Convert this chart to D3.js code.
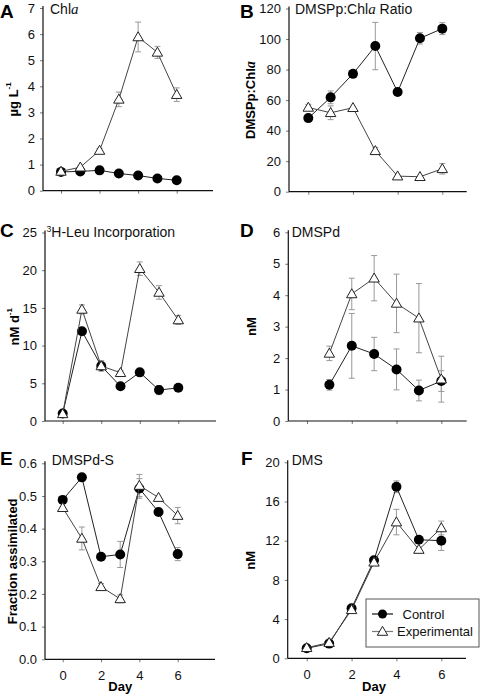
<!DOCTYPE html>
<html><head><meta charset="utf-8">
<script src="https://cdn.jsdelivr.net/npm/d3@7"></script>
<style>body{margin:0;background:#fff}svg{display:block;font-family:Arial,"Liberation Sans",sans-serif}</style>
</head><body><svg id="c" width="482" height="694"></svg>
<script>
// ---------- data ----------
const days = [0, 1, 2, 3, 4, 5, 6];
const daysD = [1, 2, 3, 4, 5, 6];
const xTicks = [0, 2, 4, 6];
const seriesNames = ["Control", "Experimental"];

const chlaControl = [0.72, 0.74, 0.78, 0.66, 0.58, 0.47, 0.40];
const chlaControlErr = [0, 0, 0, 0, 0, 0, 0];
const chlaExp = [0.74, 0.90, 1.54, 3.50, 5.89, 5.30, 3.68];
const chlaExpErr = [0.05, 0.05, 0.08, 0.28, 0.57, 0.23, 0.26];
const chlaTicks = [0, 1, 2, 3, 4, 5, 6, 7];

const ratioControl = [48.2, 61.8, 77.2, 95.4, 65.3, 100.5, 106.8];
const ratioControlErr = [0, 4.2, 0, 15.5, 0, 3.8, 3.9];
const ratioExp = [55.2, 51.7, 55.0, 26.8, 10.2, 9.8, 15.0];
const ratioExpErr = [2, 4.5, 0, 2, 0, 0, 3.4];
const ratioTicks = [0, 20, 40, 60, 80, 100, 120];

const leuControl = [1.0, 11.9, 7.3, 4.6, 6.45, 4.1, 4.4];
const leuControlErr = [0, 0.3, 0.3, 0.3, 0.3, 0.6, 0.3];
const leuExp = [0.95, 14.8, 7.3, 6.4, 20.2, 17.05, 13.4];
const leuExpErr = [0.2, 0.6, 0.7, 0.3, 0.9, 0.9, 0.6];
const leuTicks = [0, 5, 10, 15, 20, 25];

const dmspdControl = [1.15, 2.39, 2.13, 1.64, 0.97, 1.27];
const dmspdControlErr = [0.17, 1.03, 0.53, 0.65, 0.33, 0.33];
const dmspdExp = [2.15, 4.04, 4.54, 3.74, 3.27, 1.33];
const dmspdExpErr = [0.23, 0.5, 0.72, 0.93, 1.1, 0.73];
const dmspdTicks = [0, 1, 2, 3, 4, 5, 6];

const dmspdsControl = [0.488, 0.557, 0.314, 0.321, 0.523, 0.451, 0.322];
const dmspdsControlErr = [0, 0, 0, 0.04, 0.03, 0, 0.02];
const dmspdsExp = [0.464, 0.370, 0.222, 0.185, 0.532, 0.495, 0.440];
const dmspdsExpErr = [0, 0.035, 0.01, 0.012, 0.034, 0, 0.025];
const dmspdsTicks = [0, 0.1, 0.2, 0.3, 0.4, 0.5, 0.6];

const dmsControl = [1.02, 1.5, 5.1, 10.0, 17.5, 12.1, 12.0];
const dmsControlErr = [0, 0, 0, 0, 0.6, 0, 1.0];
const dmsExp = [1.08, 1.6, 4.95, 9.8, 13.9, 11.1, 13.3];
const dmsExpErr = [0, 0, 0, 0, 1.3, 0, 0.7];
const dmsTicks = [0, 4, 8, 12, 16, 20];

// ---------- layout ----------
const panels = [
  {letter:"A", lx:0, ly:18, title:[["Chl",""],["a","i"]], tx:50, ty:14,
   ylab:[["µg L",""],["-1","sup"]], ylx:13,
   d0:61, d6:176.7, aL:43, aR:213, top:8, bot:190.7, yMax:7, ticks:chlaTicks, fmt:d3.format("d"),
   x:days, c:chlaControl, ce:chlaControlErr, e:chlaExp, ee:chlaExpErr, xlabels:false},
  {letter:"B", lx:240, ly:18, title:[["DMSPp:Chl",""],["a","i"],[" Ratio",""]], tx:295, ty:14,
   ylab:[["DMSPp:Chl",""],["a","i"]], ylx:250,
   d0:308.3, d6:442.3, aL:289, aR:466.7, top:8.5, bot:191.7, yMax:120, ticks:ratioTicks, fmt:d3.format("d"),
   x:days, c:ratioControl, ce:ratioControlErr, e:ratioExp, ee:ratioExpErr, xlabels:false},
  {letter:"C", lx:0, ly:237, title:[["3","sup"],["H-Leu Incorporation",""]], tx:46.5, ty:236.5,
   ylab:[["nM d",""],["-1","sup"]], ylx:14,
   d0:62.7, d6:178.3, aL:45, aR:216, top:232.5, bot:421, yMax:25, ticks:leuTicks, fmt:d3.format("d"),
   x:days, c:leuControl, ce:leuControlErr, e:leuExp, ee:leuExpErr, xlabels:false},
  {letter:"D", lx:240, ly:237, title:[["DMSPd",""]], tx:291.7, ty:236.5,
   ylab:[["nM",""]], ylx:251,
   d0:307, d6:441.3, aL:288.3, aR:466.7, top:232.3, bot:421, yMax:6, ticks:dmspdTicks, fmt:d3.format("d"),
   x:daysD, c:dmspdControl, ce:dmspdControlErr, e:dmspdExp, ee:dmspdExpErr, xlabels:false},
  {letter:"E", lx:0, ly:465, title:[["DMSPd-S",""]], tx:51.7, ty:465,
   ylab:[["Fraction assimilated",""]], ylx:12,
   d0:62.7, d6:177.7, aL:45, aR:215, top:463.3, bot:659.3, yMax:0.6, ticks:dmspdsTicks, fmt:d3.format(".1f"),
   x:days, c:dmspdsControl, ce:dmspdsControlErr, e:dmspdsExp, ee:dmspdsExpErr, xlabels:true},
  {letter:"F", lx:241, ly:465, title:[["DMS",""]], tx:291.7, ty:465,
   ylab:[["nM",""]], ylx:250,
   d0:306.7, d6:441.3, aL:287.7, aR:466, top:462.3, bot:658.3, yMax:20, ticks:dmsTicks, fmt:d3.format("d"),
   x:days, c:dmsControl, ce:dmsControlErr, e:dmsExp, ee:dmsExpErr, xlabels:true}
];

const svg = d3.select("#c");
const triPath = "M0,-5.2L5.2,3.8L-5.2,3.8Z";

function addRich(sel, parts, size) {
  parts.forEach(([t, k]) => {
    const ts = sel.append("tspan").text(t);
    if (k === "i") ts.attr("font-style", "italic").attr("font-family", "'Liberation Serif','DejaVu Serif',serif").attr("font-size", size + 1);
    if (k === "sup") ts.attr("font-size", size * 0.62).attr("baseline-shift", "super");
  });
}

panels.forEach(p => {
  const g = svg.append("g");
  const x = d3.scaleLinear().domain([0, 6]).range([p.d0, p.d6]);
  const y = d3.scaleLinear().domain([0, p.yMax]).range([p.bot, p.top]);

  // axes
  const ya = d3.axisLeft(y).tickValues(p.ticks).tickFormat(p.fmt).tickSize(3).tickPadding(5);
  const yg = g.append("g").attr("transform", `translate(${p.aL},0)`).call(ya);
  yg.select(".domain").remove();
  yg.selectAll(".tick line").attr("stroke", "#777");
  yg.selectAll(".tick text").attr("font-size", 13).attr("fill", "#111").attr("font-family", "Arial,'Liberation Sans',sans-serif");
  g.append("line").attr("x1", p.aL).attr("x2", p.aL).attr("y1", p.top - 2).attr("y2", p.bot).attr("stroke", "#111").attr("stroke-width", 1.2);

  const xa = d3.axisBottom(x).tickValues(xTicks).tickFormat(p.xlabels ? d3.format("d") : "").tickSize(3).tickPadding(8);
  const xg = g.append("g").attr("transform", `translate(0,${p.bot})`).call(xa);
  xg.select(".domain").remove();
  xg.selectAll(".tick line").attr("stroke", "#777");
  xg.selectAll(".tick text").attr("font-size", 13).attr("fill", "#111").attr("font-family", "Arial,'Liberation Sans',sans-serif");
  g.append("line").attr("x1", p.aL).attr("x2", p.aR).attr("y1", p.bot).attr("y2", p.bot).attr("stroke", "#111").attr("stroke-width", 1.2);

  if (p.xlabels) {
    g.append("text").attr("x", (p.d0 + p.d6) / 2).attr("y", 691).attr("text-anchor", "middle")
      .attr("font-size", 13).attr("font-weight", "bold").text("Day");
  }

  // panel letter & title
  g.append("text").attr("x", p.lx).attr("y", p.ly).attr("font-size", 19).attr("font-weight", "bold").text(p.letter);
  addRich(g.append("text").attr("x", p.tx).attr("y", p.ty).attr("font-size", 14).attr("fill", "#111"), p.title, 14);

  // y label
  const yl = g.append("text").attr("transform", `translate(${p.ylx},${(p.top + p.bot) / 2}) rotate(-90)`)
    .attr("text-anchor", "middle").attr("dominant-baseline", "central")
    .attr("font-size", 13).attr("font-weight", "bold");
  addRich(yl, p.ylab, 13);

  const series = [
    {v:p.c, err:p.ce, kind:"c", line:"#222"},
    {v:p.e, err:p.ee, kind:"t", line:"#444"}
  ];
  // error bars
  series.forEach(s => {
    s.v.forEach((v, i) => {
      const e = s.err[i];
      if (!e) return;
      const cx = x(p.x[i]);
      const eg = g.append("g").attr("stroke", "#999").attr("stroke-width", 1);
      eg.append("line").attr("x1", cx).attr("x2", cx).attr("y1", y(v - e)).attr("y2", y(v + e));
      eg.append("line").attr("x1", cx - 3).attr("x2", cx + 3).attr("y1", y(v - e)).attr("y2", y(v - e));
      eg.append("line").attr("x1", cx - 3).attr("x2", cx + 3).attr("y1", y(v + e)).attr("y2", y(v + e));
    });
  });
  series.forEach(s => {
    const line = d3.line().x((d, i) => x(p.x[i])).y(d => y(d));
    g.append("path").attr("d", line(s.v)).attr("fill", "none").attr("stroke", s.line).attr("stroke-width", 1);
    s.v.forEach((v, i) => {
      if (s.kind === "c") {
        g.append("circle").attr("cx", x(p.x[i])).attr("cy", y(v)).attr("r", 5).attr("fill", "#000");
      } else {
        g.append("path").attr("d", triPath).attr("transform", `translate(${x(p.x[i])},${y(v)})`)
          .attr("fill", "#fff").attr("stroke", "#222").attr("stroke-width", 1);
      }
    });
  });
});

// legend
const lg = svg.append("g");
lg.append("rect").attr("x", 366).attr("y", 599).attr("width", 113).attr("height", 48)
  .attr("fill", "#fff").attr("stroke", "#555").attr("stroke-width", 1);
const legY = [614, 631.5];
seriesNames.forEach((n, i) => {
  lg.append("line").attr("x1", 372).attr("x2", 393).attr("y1", legY[i]).attr("y2", legY[i])
    .attr("stroke", i === 0 ? "#111" : "#777").attr("stroke-width", 1.2);
  if (i === 0) lg.append("circle").attr("cx", 382.5).attr("cy", legY[i]).attr("r", 4.5).attr("fill", "#000");
  else lg.append("path").attr("d", triPath).attr("transform", `translate(382.5,${legY[i]})`).attr("fill", "#fff").attr("stroke", "#222");
  lg.append("text").attr("x", i === 0 ? 402.5 : 397).attr("y", legY[i]).attr("dominant-baseline", "central")
    .attr("font-size", 13).attr("fill", "#111").text(n);
});
</script></body></html>
